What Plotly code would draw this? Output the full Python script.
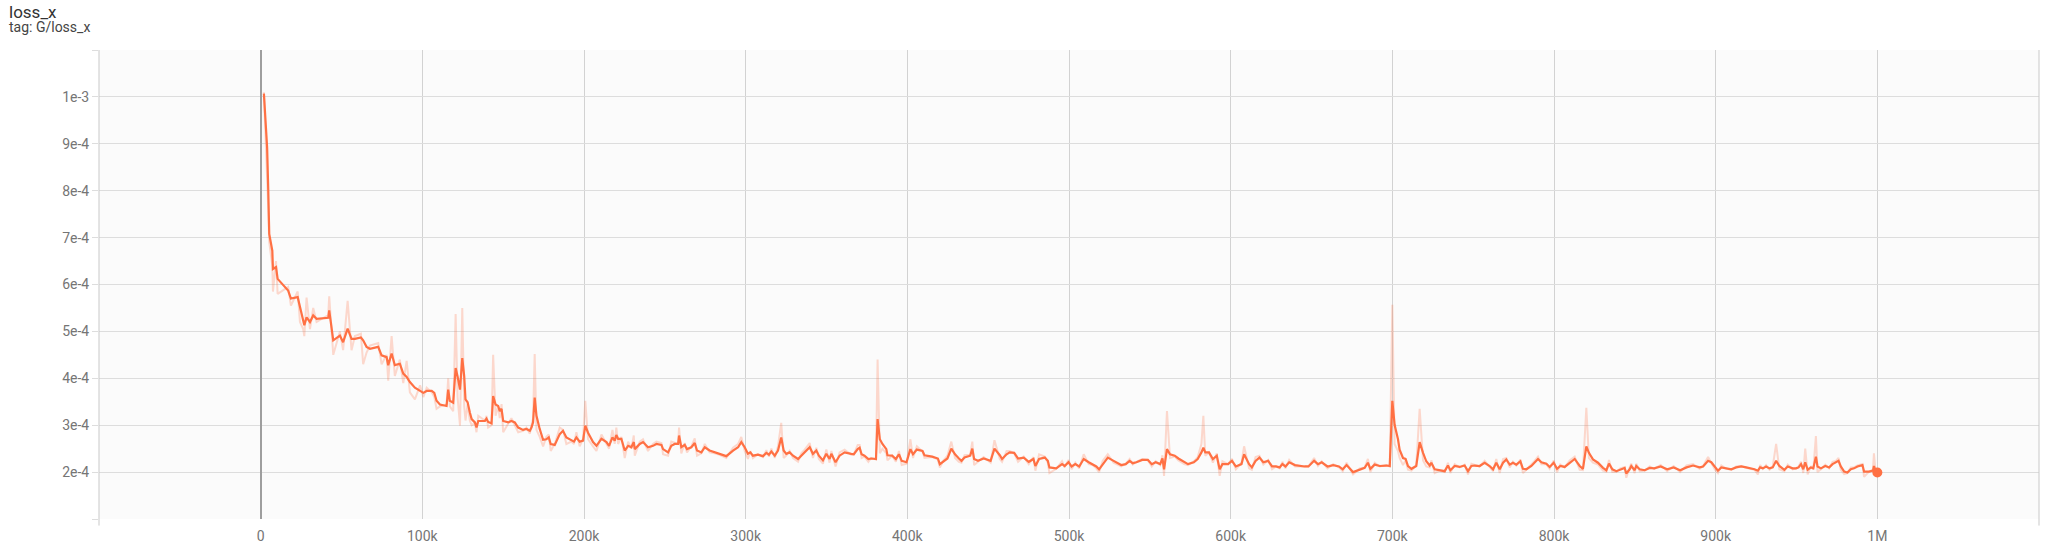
import plotly.graph_objects as go

# training step (thousands)
steps_k = [
    2, 4, 4.7, 5.3, 7.2, 7.6, 9.5, 10.5, 17, 18.7, 22.9, 24.3, 26.3, 27, 28.4, 30.5, 32.5, 34.6, 41.8, 42.4,
    44.9, 49, 51, 53.8, 56.2, 58.3, 62, 63.4, 65.5, 67.6, 72.7, 74.8, 77.9, 78.9, 81, 83, 86.1, 88.2, 90.3, 92.3,
    95.4, 98.6, 100.6, 102.7, 105.8, 107.4, 108.8, 110.9, 115, 116, 117, 119.1, 120.6, 121.8, 123.3, 124.7, 125.9, 126.7, 128, 129.4,
    130.5, 132.5, 133.5, 134.6, 138.7, 139.7, 140.7, 142.8, 143.8, 145.3, 146.9, 147.9, 149, 150, 153.1, 155.1, 157.2, 159.3, 162.3, 164.4,
    166.5, 167.5, 168.5, 169.5, 170.6, 172.6, 174.7, 176.7, 178.2, 179.4, 181.9, 185, 187, 189.1, 192.2, 193.8, 195.3, 197.3, 199.4, 200.8,
    202.5, 205.6, 207.7, 210.8, 213.9, 215.5, 217.6, 219, 220, 221.1, 223.1, 225.2, 227.3, 229.3, 230.8, 231.4, 234.5, 236.5, 239.6, 242.7,
    244.8, 247.9, 248.9, 252, 254, 256.1, 258.2, 258.8, 260.2, 262.3, 263.7, 266.4, 268.5, 269.9, 272.6, 274.7, 277.7, 280.8, 283.9, 288,
    292.2, 295.3, 297.3, 299.4, 301.4, 302.9, 304.5, 307.6, 310.7, 312.8, 314.4, 315.9, 318, 320, 322, 323.5, 325.1, 327.2, 329.3, 332.4,
    334.4, 336.5, 339.6, 341.6, 343.7, 345.3, 347.8, 349.9, 351.9, 353, 355.6, 358.1, 361.2, 365.3, 366.9, 369.3, 370.5, 371.7, 373.5, 375.9,
    377.6, 380.6, 381.6, 383, 384.6, 387, 387.7, 390.6, 392.9, 394.8, 396.5, 399.5, 401.9, 403.5, 405.9, 409.4, 410.6, 415.4, 418.9, 420.1,
    422.4, 424.8, 427.2, 429.5, 431.9, 433.5, 435.4, 438.9, 440.2, 441.3, 443.7, 447.2, 451.5, 453.9, 457.2, 458.6, 461.4, 463.3, 466.1, 468.5,
    472, 475.1, 478, 479.2, 481.5, 485, 486.9, 487.9, 492.1, 495.7, 497.3, 499.7, 501.6, 503.9, 506.3, 509.1, 512.2, 514.6, 516.9, 518.6,
    520.9, 524, 527.6, 532.3, 535.1, 537.5, 539.4, 541.7, 545.3, 548.8, 551.2, 553.6, 556.4, 557.8, 558.8, 560.6, 562.5, 565.4, 567.7, 571.3,
    573.6, 577.2, 579.6, 581.9, 583.1, 584.3, 586.6, 589, 591.4, 593.2, 594.9, 598.4, 600.8, 603.2, 606.7, 608.3, 611.4, 613.1, 615.4, 617.8,
    620.2, 623.2, 625.6, 628, 630.3, 632, 633.9, 636.2, 639.8, 645.7, 648.1, 651.6, 654, 656.3, 659.9, 663.4, 667, 669.3, 671.7, 675.7,
    679.8, 682.9, 684.9, 686.4, 689.1, 692.2, 696.3, 698.4, 700, 701.4, 703.5, 704.5, 706.6, 708.2, 709.7, 711.8, 714.8, 716.9, 719, 721,
    723.1, 724.1, 726.2, 729.3, 732.4, 734.4, 735.9, 738.6, 741.6, 744.7, 746.8, 748.9, 750.9, 754, 757.1, 760.2, 762.3, 764.3, 766.4, 768.5,
    770.5, 772.6, 774.6, 776.7, 779.2, 780.8, 782.9, 786, 788, 790.1, 792.2, 795.3, 797.3, 799.8, 801.9, 803.9, 806.6, 809.7, 812.8, 815.9,
    817.9, 820, 821.6, 824.1, 827.2, 830.3, 832.4, 834, 836.1, 838.6, 841, 843.7, 844.7, 846.8, 847.8, 849.9, 850.9, 853, 856.1, 859.2,
    862, 866, 870, 874, 878, 882, 886, 890.1, 892.2, 895.3, 897.3, 899.4, 901.4, 903.5, 906.6, 909.7, 912.7, 915.8, 918.9, 922,
    924, 926.1, 927.5, 929.2, 931.2, 933.3, 935.3, 937.4, 939.4, 942.5, 944.6, 947.6, 949.7, 951.3, 952.8, 954.2, 955.4, 956.9, 958.9, 960.4,
    962, 963, 965.1, 967.8, 970.2, 972.3, 974.3, 976, 977.4, 979.5, 981.5, 983.6, 985.6, 987.7, 990.8, 991.8, 994.9, 997.3, 997.9, 999,
    1000,
]

# smoothed loss (units of 1e-4)
smoothed_e4 = [
    10.07, 8.92, 8.0, 7.08, 6.72, 6.33, 6.37, 6.12, 5.87, 5.7, 5.73, 5.52, 5.27, 5.13, 5.3, 5.2, 5.34, 5.27, 5.29, 5.45,
    4.81, 4.91, 4.77, 5.06, 4.84, 4.84, 4.87, 4.81, 4.67, 4.63, 4.67, 4.49, 4.45, 4.28, 4.53, 4.28, 4.31, 4.1, 4.03, 3.92,
    3.8, 3.73, 3.69, 3.73, 3.73, 3.69, 3.52, 3.44, 3.41, 3.76, 3.52, 3.48, 4.22, 4.04, 3.76, 4.43, 4.04, 3.55, 3.49, 3.27,
    3.13, 3.06, 2.95, 3.09, 3.09, 3.14, 3.07, 3.04, 3.62, 3.44, 3.41, 3.30, 3.35, 3.09, 3.06, 3.09, 3.06, 2.95, 2.90, 2.92,
    2.88, 2.95, 3.06, 3.59, 3.20, 2.92, 2.69, 2.70, 2.74, 2.60, 2.58, 2.81, 2.88, 2.74, 2.67, 2.65, 2.74, 2.65, 2.67, 2.99,
    2.84, 2.64, 2.56, 2.71, 2.64, 2.56, 2.74, 2.67, 2.79, 2.71, 2.71, 2.46, 2.56, 2.53, 2.64, 2.49, 2.60, 2.64, 2.53, 2.56,
    2.60, 2.58, 2.49, 2.42, 2.56, 2.60, 2.60, 2.78, 2.53, 2.58, 2.49, 2.53, 2.62, 2.46, 2.42, 2.53, 2.46, 2.42, 2.39, 2.34,
    2.46, 2.53, 2.64, 2.53, 2.39, 2.42, 2.35, 2.37, 2.34, 2.41, 2.37, 2.44, 2.35, 2.46, 2.74, 2.46, 2.39, 2.42, 2.35, 2.28,
    2.35, 2.42, 2.53, 2.39, 2.46, 2.35, 2.25, 2.39, 2.28, 2.39, 2.21, 2.35, 2.42, 2.39, 2.38, 2.49, 2.52, 2.38, 2.35, 2.28,
    2.29, 2.28, 3.13, 2.70, 2.60, 2.49, 2.36, 2.35, 2.28, 2.38, 2.24, 2.21, 2.49, 2.38, 2.48, 2.45, 2.36, 2.33, 2.29, 2.17,
    2.22, 2.29, 2.50, 2.38, 2.29, 2.24, 2.31, 2.35, 2.50, 2.28, 2.24, 2.29, 2.24, 2.50, 2.36, 2.28, 2.38, 2.42, 2.41, 2.29,
    2.31, 2.22, 2.28, 2.13, 2.28, 2.31, 2.24, 2.10, 2.08, 2.17, 2.13, 2.21, 2.12, 2.17, 2.12, 2.28, 2.21, 2.17, 2.12, 2.06,
    2.17, 2.31, 2.24, 2.15, 2.17, 2.24, 2.19, 2.21, 2.26, 2.26, 2.17, 2.21, 2.17, 2.29, 2.06, 2.49, 2.38, 2.35, 2.29, 2.21,
    2.17, 2.21, 2.28, 2.42, 2.52, 2.42, 2.42, 2.28, 2.35, 2.06, 2.17, 2.17, 2.24, 2.12, 2.17, 2.38, 2.17, 2.10, 2.24, 2.31,
    2.21, 2.24, 2.12, 2.12, 2.10, 2.17, 2.12, 2.21, 2.15, 2.12, 2.12, 2.24, 2.17, 2.21, 2.12, 2.15, 2.12, 2.06, 2.15, 2.00,
    2.06, 2.09, 2.20, 2.07, 2.16, 2.13, 2.14, 2.13, 3.52, 3.01, 2.70, 2.48, 2.30, 2.28, 2.13, 2.07, 2.13, 2.64, 2.41, 2.23,
    2.14, 2.20, 2.06, 2.04, 2.02, 2.14, 2.04, 2.13, 2.11, 2.14, 2.02, 2.13, 2.14, 2.13, 2.20, 2.13, 2.06, 2.20, 2.06, 2.20,
    2.27, 2.16, 2.20, 2.16, 2.23, 2.07, 2.06, 2.13, 2.20, 2.28, 2.21, 2.18, 2.11, 2.20, 2.07, 2.13, 2.11, 2.20, 2.28, 2.13,
    2.07, 2.55, 2.41, 2.27, 2.20, 2.09, 2.04, 2.18, 2.06, 2.02, 2.06, 2.09, 1.97, 2.06, 2.13, 2.04, 2.13, 2.06, 2.04, 2.09,
    2.08, 2.12, 2.06, 2.10, 2.04, 2.10, 2.14, 2.10, 2.12, 2.24, 2.21, 2.12, 2.03, 2.10, 2.08, 2.06, 2.10, 2.12, 2.10, 2.08,
    2.06, 2.03, 2.10, 2.08, 2.12, 2.08, 2.10, 2.24, 2.13, 2.05, 2.12, 2.08, 2.08, 2.10, 2.17, 2.06, 2.21, 2.05, 2.10, 2.08,
    2.33, 2.12, 2.08, 2.13, 2.10, 2.17, 2.21, 2.24, 2.12, 2.01, 1.99, 2.06, 2.08, 2.12, 2.15, 2.01, 2.01, 2.03, 2.13, 2.01,
    1.99,
]

# raw (unsmoothed) loss (units of 1e-4)
raw_e4 = [
    10.1, 8.5, 7.6, 6.9, 6.4, 5.85, 6.5, 5.8, 5.95, 5.55, 5.85, 5.2, 5.05, 4.9, 5.72, 5.05, 5.5, 5.2, 5.35, 5.75,
    4.5, 5.0, 4.6, 5.65, 4.6, 4.9, 4.95, 4.3, 4.55, 4.7, 4.75, 4.3, 4.5, 3.95, 4.9, 4.05, 4.4, 3.9, 4.37, 3.7,
    3.55, 3.85, 3.6, 3.8, 3.7, 3.6, 3.35, 3.4, 3.45, 4.0, 3.4, 3.3, 5.37, 3.6, 2.99, 5.5, 3.4, 3.1, 3.45, 3.1,
    3.0, 3.05, 2.85, 3.2, 3.1, 3.2, 2.95, 3.0, 4.5, 3.2, 3.4, 3.15, 3.45, 2.85, 3.05, 3.15, 3.0, 2.85, 2.88, 2.95,
    2.82, 3.0, 3.15, 4.52, 2.9, 2.75, 2.55, 2.75, 2.8, 2.45, 2.6, 2.95, 2.9, 2.6, 2.65, 2.6, 2.85, 2.55, 2.7, 3.52,
    2.7, 2.55, 2.45, 2.8, 2.6, 2.5, 2.9, 2.6, 2.95, 2.6, 2.75, 2.3, 2.65, 2.5, 2.78, 2.35, 2.65, 2.7, 2.45, 2.6,
    2.65, 2.62, 2.38, 2.35, 2.65, 2.62, 2.6, 2.95, 2.4, 2.62, 2.42, 2.55, 2.72, 2.35, 2.4, 2.6, 2.42, 2.4, 2.37, 2.3,
    2.52, 2.6, 2.75, 2.45, 2.28, 2.45, 2.3, 2.38, 2.32, 2.47, 2.33, 2.5, 2.3, 2.55, 3.05, 2.3, 2.35, 2.45, 2.3, 2.22,
    2.4, 2.48, 2.62, 2.3, 2.52, 2.28, 2.18, 2.48, 2.2, 2.45, 2.12, 2.42, 2.48, 2.37, 2.38, 2.58, 2.58, 2.3, 2.33, 2.22,
    2.3, 2.27, 4.4, 2.4, 2.5, 2.4, 2.25, 2.35, 2.22, 2.45, 2.15, 2.18, 2.7, 2.3, 2.55, 2.44, 2.3, 2.32, 2.27, 2.1,
    2.25, 2.35, 2.65, 2.3, 2.22, 2.2, 2.36, 2.37, 2.65, 2.15, 2.22, 2.32, 2.2, 2.68, 2.28, 2.22, 2.45, 2.45, 2.4, 2.22,
    2.33, 2.17, 2.32, 2.03, 2.38, 2.33, 2.2, 1.98, 2.07, 2.23, 2.1, 2.26, 2.06, 2.2, 2.08, 2.38, 2.17, 2.15, 2.08, 2.0,
    2.24, 2.38, 2.2, 2.12, 2.18, 2.28, 2.16, 2.22, 2.28, 2.26, 2.12, 2.23, 2.15, 2.36, 1.92, 3.3, 2.3, 2.33, 2.25, 2.17,
    2.15, 2.23, 2.32, 2.6, 3.2, 2.35, 2.42, 2.2, 2.4, 1.92, 2.23, 2.17, 2.28, 2.06, 2.2, 2.55, 2.08, 2.05, 2.32, 2.35,
    2.16, 2.26, 2.06, 2.12, 2.08, 2.22, 2.08, 2.26, 2.12, 2.11, 2.12, 2.3, 2.13, 2.23, 2.08, 2.17, 2.1, 2.02, 2.2, 1.95,
    2.08, 2.1, 2.28, 2.0, 2.2, 2.12, 2.15, 2.12, 5.57, 2.6, 2.45, 2.3, 2.15, 2.25, 2.05, 2.03, 2.15, 3.35, 2.25, 2.12,
    2.1, 2.25, 1.98, 2.03, 2.0, 2.2, 1.98, 2.17, 2.1, 2.16, 1.95, 2.18, 2.15, 2.12, 2.24, 2.1, 2.02, 2.28, 1.98, 2.28,
    2.3, 2.1, 2.22, 2.14, 2.27, 1.98, 2.05, 2.17, 2.24, 2.33, 2.17, 2.17, 2.07, 2.25, 2.0, 2.16, 2.1, 2.25, 2.33, 2.05,
    2.04, 3.37, 2.3, 2.2, 2.16, 2.03, 2.01, 2.26, 2.0, 2.0, 2.08, 2.11, 1.88, 2.1, 2.18, 1.98, 2.18, 2.02, 2.03, 2.12,
    2.07, 2.15, 2.02, 2.13, 2.0, 2.14, 2.17, 2.07, 2.13, 2.32, 2.2, 2.06, 1.98, 2.14, 2.07, 2.05, 2.12, 2.13, 2.09, 2.07,
    2.05, 1.95, 2.15, 2.07, 2.15, 2.05, 2.12, 2.6, 2.06, 2.02, 2.16, 2.06, 2.08, 2.12, 2.22, 1.98, 2.5, 1.95, 2.13, 2.06,
    2.77, 2.0, 2.06, 2.16, 2.08, 2.22, 2.24, 2.3, 2.05, 1.96, 1.98, 2.1, 2.1, 2.14, 2.17, 1.9, 2.01, 2.05, 2.4, 1.95,
    1.99,
]

x_tick_vals = [0, 100000, 200000, 300000, 400000, 500000, 600000, 700000, 800000, 900000, 1000000]
x_tick_text = ["0", "100k", "200k", "300k", "400k", "500k", "600k", "700k", "800k", "900k", "1M"]
y_tick_vals = [1e-4, 2e-4, 3e-4, 4e-4, 5e-4, 6e-4, 7e-4, 8e-4, 9e-4, 1e-3, 1.1e-3]
y_tick_text = ["", "2e-4", "3e-4", "4e-4", "5e-4", "6e-4", "7e-4", "8e-4", "9e-4", "1e-3", ""]

steps = [s * 1000 for s in steps_k]
smoothed = [v * 1e-4 for v in smoothed_e4]
raw = [v * 1e-4 for v in raw_e4]

COLOR = "#ff7043"
HGRID = "#dddddd"
VGRID = "#d2d2d2"
EDGE = "#c9c9c9"

fig = go.Figure()
fig.add_trace(go.Scatter(x=steps, y=raw, mode="lines",
                         line=dict(color=COLOR, width=2), opacity=0.25,
                         hoverinfo="skip", showlegend=False))
fig.add_trace(go.Scatter(x=steps, y=smoothed, mode="lines",
                         line=dict(color=COLOR, width=2.2),
                         showlegend=False))
fig.add_trace(go.Scatter(x=steps[-1:], y=smoothed[-1:], mode="markers",
                         marker=dict(color=COLOR, size=10),
                         showlegend=False))

tick_font = dict(family="Roboto, sans-serif", size=14, color="#757575")

fig.update_layout(
    width=2046, height=549,
    margin=dict(l=99, r=7, t=50, b=30, autoexpand=False),
    paper_bgcolor="white",
    plot_bgcolor="#fbfbfb",
    xaxis=dict(
        range=[-100000, 1100000],
        tickvals=x_tick_vals, ticktext=x_tick_text,
        showgrid=True, gridcolor=VGRID, gridwidth=1,
        zeroline=True, zerolinecolor="#9e9e9e", zerolinewidth=2,
        showline=False,
        ticks="", tickfont=tick_font, ticklabelstandoff=7,
        automargin=False, fixedrange=True,
    ),
    yaxis=dict(
        range=[1e-4, 1.1e-3],
        tickvals=y_tick_vals, ticktext=y_tick_text,
        showgrid=True, gridcolor=HGRID, gridwidth=1,
        zeroline=False,
        showline=False,
        ticks="outside", ticklen=6, tickcolor=HGRID, tickwidth=1,
        tickfont=tick_font, ticklabelstandoff=0,
        automargin=False, fixedrange=True,
    ),
    shapes=[
        # left and right frame edges, extending a little below the plot
        dict(type="line", xref="paper", yref="paper", x0=0, x1=0, y0=1, y1=-0.014,
             line=dict(color=EDGE, width=1)),
        dict(type="line", xref="paper", yref="paper", x0=1, x1=1, y0=1, y1=-0.014,
             line=dict(color=EDGE, width=1)),
    ],
    annotations=[
        dict(text="loss_x", xref="paper", yref="paper", x=-0.0475, y=1.082,
             xanchor="left", yanchor="middle", showarrow=False,
             font=dict(family="Roboto, sans-serif", size=17, color="#333333")),
        dict(text="tag: G/loss_x", xref="paper", yref="paper", x=-0.0475, y=1.050,
             xanchor="left", yanchor="middle", showarrow=False,
             font=dict(family="Roboto, sans-serif", size=14, color="#444444")),
    ],
)

# remove the default 8px page margin so the figure fills the window exactly
fig.write_html("out.html", config={"displayModeBar": False},
               post_script="document.body.style.margin='0';")
